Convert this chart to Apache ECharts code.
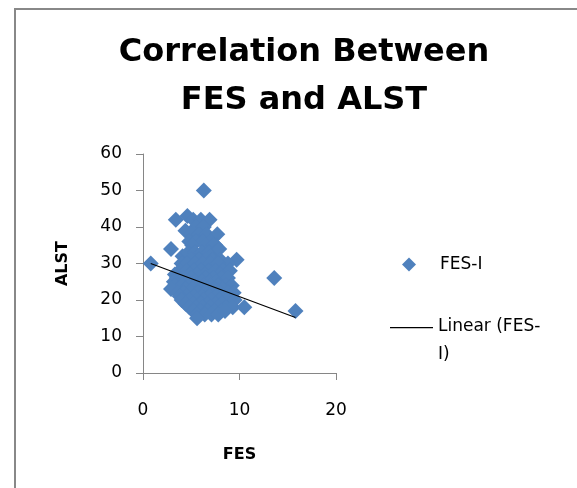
<!DOCTYPE html>
<html>
<head>
<meta charset="utf-8">
<script src="https://cdn.jsdelivr.net/npm/echarts@6/dist/echarts.min.js"></script>
<style>
  html, body { margin: 0; padding: 0; background: #fff; }
  #main { width: 577px; height: 488px; }
</style>
</head>
<body>
<div id="main"></div>
<script>
// FES-I scores (x) and ALST values (y)
var fesValues = [
  6.3,
  3.4, 4.6, 5.2, 6.0, 6.9,
  5.5, 6.3, 4.4,
  5.0, 5.8, 6.6, 7.7,
  4.8, 5.5, 6.2, 7.0, 7.5,
  5.1, 6.5, 7.3, 2.9, 4.1,
  4.7, 5.4, 6.1, 6.8, 7.4, 7.9,
  5.0, 5.8, 6.5, 7.2, 8.0, 9.7, 8.8,
  0.8, 4.0, 4.6, 5.4, 6.2, 7.0, 7.8,
  3.8, 4.5, 5.3, 6.0, 6.8, 7.5, 8.3, 9.0, 3.3,
  4.9, 5.6, 6.4, 7.2, 8.0,
  3.5, 4.2, 5.0, 5.8, 6.5, 7.3, 8.1, 8.8, 13.6,
  4.6, 5.4, 6.1, 6.9, 7.6, 3.2,
  3.3, 4.0, 4.8, 5.5, 6.3, 7.0, 7.8, 8.6, 9.2,
  2.9, 4.4, 5.1, 5.9, 6.7, 7.4, 8.2,
  3.6, 4.2, 5.0, 5.7, 6.4, 7.2, 8.0, 8.8, 9.4,
  4.5, 5.3, 6.1, 6.9, 7.6, 8.4, 3.8,
  4.0, 4.8, 5.6, 6.3, 7.1, 7.9, 8.7, 9.5,
  4.4, 5.2, 6.0, 6.7, 7.5, 8.2,
  4.8, 5.5, 6.2, 7.0, 7.8, 8.6, 9.3, 10.5,
  5.2, 6.0, 6.7, 7.4, 8.1, 15.8,
  5.6, 6.4, 7.1, 7.8, 8.5,
  5.6
];
var alstValues = [
  50,
  42, 43, 42, 42, 42,
  40, 40, 39,
  38, 38, 38, 38,
  36, 36, 36, 36, 35,
  35, 35, 35, 34, 32,
  33, 33, 33, 33, 33, 34,
  31, 31, 31, 31, 31, 31, 30,
  30, 30, 30, 30, 30, 30, 30,
  28, 28, 28, 28, 28, 28, 28, 28, 27,
  27, 27, 27, 27, 27,
  26, 26, 26, 26, 26, 26, 26, 26, 26,
  25, 25, 25, 25, 25, 25,
  24, 24, 24, 24, 24, 24, 24, 24, 24,
  23, 23, 23, 23, 23, 23, 23,
  22, 22, 22, 22, 22, 22, 22, 22, 22,
  21, 21, 21, 21, 21, 21, 21,
  20, 20, 20, 20, 20, 20, 20, 20,
  19, 19, 19, 19, 19, 19,
  18, 18, 18, 18, 18, 18, 18, 18,
  17, 17, 17, 17, 17, 17,
  16, 16, 16, 16, 17,
  15
];
// end points of the linear trendline as drawn
var trendX = [0.8, 15.8];
var trendY = [30.0, 15.2];
var xTicks = [0, 10, 20];
var yTicks = [0, 10, 20, 30, 40, 50, 60];

var points = fesValues.map(function (x, i) { return [x, alstValues[i]]; });
var trend = trendX.map(function (x, i) { return [x, trendY[i]]; });

var chart = echarts.init(document.getElementById('main'));
var axisGray = '#868686';
var option = {
  backgroundColor: '#fff',
  animation: false,
  title: {
    text: 'Correlation Between\nFES and ALST',
    left: 299,
    top: 24,
    textAlign: 'center',
    textStyle: {
      fontFamily: 'DejaVu Sans',
      fontWeight: 'bold',
      fontSize: 32,
      lineHeight: 48,
      color: '#000'
    }
  },
  grid: { left: 143, top: 154, width: 193, height: 219 },
  legend: [{
    data: [{ name: 'FES-I', icon: 'diamond' }],
    left: 397, top: 251,
    itemWidth: 14, itemHeight: 14,
    textStyle: { fontFamily: 'DejaVu Sans', fontSize: 17, color: '#000', padding: [0, 0, 0, 19] }
  }, {
    // line sits at the top of a 43x28 icon so it lines up with the first text line
    data: [{ name: 'Linear (FES-I)', icon: 'path://M0,0L43,0L43,1.2L0,1.2Z M0,27.99L0.01,27.99L0.01,28L0,28Z' }],
    left: 385, top: 308,
    itemWidth: 43, itemHeight: 28,
    formatter: function () { return 'Linear (FES-\nI)'; },
    textStyle: { fontFamily: 'DejaVu Sans', fontSize: 17, lineHeight: 28, color: '#000' }
  }],
  xAxis: {
    type: 'value',
    min: xTicks[0], max: xTicks[xTicks.length - 1], interval: 10,
    name: 'FES', nameLocation: 'middle', nameGap: 74,
    nameTextStyle: { fontFamily: 'DejaVu Sans', fontWeight: 'bold', fontSize: 16, color: '#000' },
    axisLine: { lineStyle: { color: axisGray, width: 1 } },
    axisTick: { show: true, length: 7, lineStyle: { color: axisGray } },
    axisLabel: { margin: 29, fontFamily: 'DejaVu Sans', fontSize: 17, color: '#000' },
    splitLine: { show: false }
  },
  yAxis: {
    type: 'value',
    min: yTicks[0], max: yTicks[yTicks.length - 1], interval: 10,
    name: 'ALST', nameLocation: 'middle', nameGap: 72, nameRotate: 90,
    nameTextStyle: { fontFamily: 'DejaVu Sans', fontWeight: 'bold', fontSize: 16, color: '#000' },
    axisLine: { show: true, lineStyle: { color: axisGray, width: 1 } },
    axisTick: { show: true, length: 7, lineStyle: { color: axisGray } },
    axisLabel: { margin: 21, fontFamily: 'DejaVu Sans', fontSize: 17, color: '#000' },
    splitLine: { show: false }
  },
  series: [{
    name: 'FES-I',
    type: 'scatter',
    symbol: 'diamond',
    symbolSize: 16,
    itemStyle: { color: '#4F81BD', opacity: 1 },
    data: points,
    z: 2
  }, {
    name: 'Linear (FES-I)',
    type: 'line',
    symbol: 'none',
    lineStyle: { color: '#000', width: 1.2 },
    itemStyle: { color: '#000' },
    data: trend,
    z: 3
  }],
  graphic: [{
    type: 'rect',
    shape: { x: 15, y: 9, width: 700, height: 700 },
    style: { fill: 'none', stroke: '#888', lineWidth: 2 },
    silent: true
  }]
};
chart.setOption(option);
</script>
</body>
</html>
